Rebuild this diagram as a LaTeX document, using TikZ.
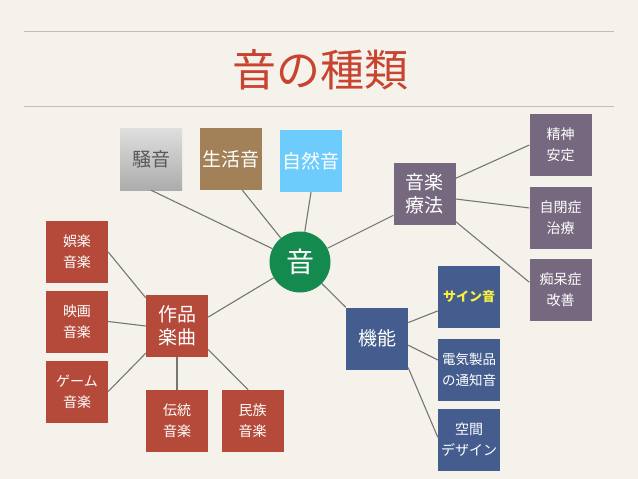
\documentclass[tikz,border=0pt]{standalone}
\usepackage{fontspec}
\setmainfont{Noto Sans CJK JP}
\definecolor{paper}{RGB}{245,242,236}
\definecolor{rule}{RGB}{192,190,186}
\definecolor{titlered}{RGB}{200,68,48}
\definecolor{link}{RGB}{118,118,116}
\definecolor{worksred}{RGB}{181,74,58}
\definecolor{therapy}{RGB}{118,104,126}
\definecolor{funcblue}{RGB}{68,93,142}
\definecolor{otogreen}{RGB}{20,138,78}
\definecolor{lifebrown}{RGB}{162,128,88}
\definecolor{natureblue}{RGB}{110,204,252}
\definecolor{sineyellow}{RGB}{250,240,60}
\begin{document}
\begin{tikzpicture}[x=1pt, y=-1pt,
    box/.style={rectangle, minimum width=62, minimum height=62, inner sep=0pt,
        text=white, align=center, font=\fontsize{14}{21}\selectfont},
    bigbox/.style={box, font=\fontsize{19}{23}\selectfont},
    redbox/.style={box, fill=worksred},
    purplebox/.style={box, fill=therapy},
    bluebox/.style={box, fill=funcblue},
    link/.style={draw=link, line width=1.1pt}]
    \fill[paper] (0,0) rectangle (638,479);
    \useasboundingbox (0,0) rectangle (638,479);
    \draw[rule, line width=0.8pt] (24,31) -- (614,31);
    \draw[rule, line width=0.8pt] (24,106) -- (614,106);
    \node[text=titlered, font=\fontsize{44}{50}\selectfont] (title) at (320,70) {音の種類};

    \node[circle, fill=otogreen, minimum size=61, inner sep=0pt, text=white,
        font=\fontsize{28}{30}\selectfont] (oto) at (300,262) {音};

    \node[bigbox, top color=gray!25, bottom color=gray!65, text=black!65] (noise) at (151,159) {騒音};
    \node[bigbox, fill=lifebrown] (life) at (231,159) {生活音};
    \node[bigbox, fill=natureblue] (nature) at (311,161) {自然音};

    \node[purplebox, bigbox] (therapy) at (424.5,193.5) {音楽\\療法};
    \node[purplebox] (calm) at (560.5,145) {精神\\安定};
    \node[purplebox] (autism) at (560.5,217.5) {自閉症\\治療};
    \node[purplebox] (dementia) at (560.5,290) {痴呆症\\改善};

    \node[bluebox, bigbox] (function) at (377,338.5) {機能};
    \node[bluebox, text=sineyellow, font=\fontsize{13}{16}\selectfont\bfseries] (sine) at (469,297) {サイン音};
    \node[bluebox, font=\fontsize{13.5}{21}\selectfont] (notice) at (469,369.5) {電気製品\\の通知音};
    \node[bluebox] (space) at (469,440) {空間\\デザイン};

    \node[redbox, bigbox] (work) at (177,326) {作品\\楽曲};
    \node[redbox] (goraku) at (77,252) {娯楽\\音楽};
    \node[redbox] (film) at (77,321.5) {映画\\音楽};
    \node[redbox] (game) at (77,391.5) {ゲーム\\音楽};
    \node[redbox] (trad) at (177,421) {伝統\\音楽};
    \node[redbox] (ethnic) at (252.5,421) {民族\\音楽};

    \draw[link] (noise.south) -- (oto);
    \draw[link] (life.290) -- (oto);
    \draw[link] (nature.south) -- (oto);
    \draw[link] (oto) -- (therapy.215);
    \draw[link] (oto) -- (function.north west);
    \draw[link] (oto) -- (work.16);

    \draw[link] (therapy.26) -- (calm.west);
    \draw[link] (therapy.350) -- (autism.163);
    \draw[link] (therapy.318) -- (dementia.166);

    \draw[link] (function.27) -- (sine.204);
    \draw[link] (function.348) -- (notice.163);
    \draw[link] (function.317) -- (space.175);

    \draw[link] (goraku.east) -- (work.138);
    \draw[link] (film.east) -- (work.west);
    \draw[link] (game.east) -- (work.221);
    \draw[link] (work.south) -- (trad.north);
    \draw[link] (work.323) -- (ethnic.98);
\end{tikzpicture}
\end{document}
